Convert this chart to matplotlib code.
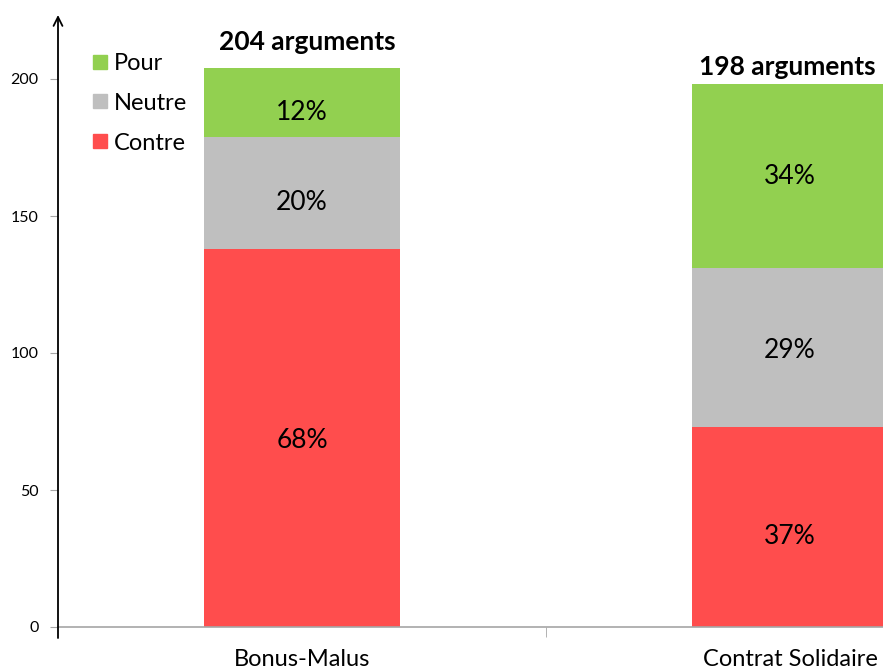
import matplotlib
matplotlib.use("Agg")
from matplotlib import pyplot as plt
from matplotlib.lines import Line2D
import matplotlib.transforms as mtransforms
import numpy as np

plt.rcParams['font.family'] = ['Lato', 'DejaVu Sans']

# donnees
categories = ['Bonus-Malus', 'Contrat Solidaire']
contre = [138, 73]
neutre = [41, 58]
pour = [25, 67]
totaux = [204, 198]
pct_contre = ['68%', '37%']
pct_neutre = ['20%', '29%']
pct_pour = ['12%', '34%']

c_pour = '#92D050'
c_neutre = '#BFBFBF'
c_contre = '#FF4D4D'

fig = plt.figure(figsize=(8.83, 6.69), dpi=100)
ax = fig.add_axes([58/883, 1 - 627/669, 1 - 58/883, (627 - 15)/669])

x = np.arange(len(categories))
w = 0.4
contre = np.array(contre)
neutre = np.array(neutre)
pour = np.array(pour)
ax.bar(x, contre, w, color=c_contre)
ax.bar(x, neutre, w, bottom=contre, color=c_neutre)
ax.bar(x, pour, w, bottom=contre + neutre, color=c_pour)

# petit decalage vertical des etiquettes (en points), comme dans Excel
def decale(dy):
    return ax.transData + mtransforms.ScaledTranslation(0, dy / 72, fig.dpi_scale_trans)

dy_contre = [-1.5, -7]
dy_neutre = [-7, -2.5]
dy_pour = [-7, 0]
for i in range(len(x)):
    ax.text(x[i], contre[i] / 2, pct_contre[i], ha='center', va='center', fontsize=19,
            transform=decale(dy_contre[i]))
    ax.text(x[i], contre[i] + neutre[i] / 2, pct_neutre[i], ha='center', va='center',
            fontsize=19, transform=decale(dy_neutre[i]))
    ax.text(x[i], contre[i] + neutre[i] + pour[i] / 2, pct_pour[i], ha='center', va='center',
            fontsize=19, transform=decale(dy_pour[i]))

# titres au-dessus des barres
ax.text(x[0] + 0.01, 213.5, '%d arguments' % totaux[0], ha='center', va='center',
        fontsize=19, fontweight='bold')
ax.text(x[1] - 0.005, 204.2, '%d arguments' % totaux[1], ha='center', va='center',
        fontsize=19, fontweight='bold')

ax.set_xlim(-0.5, (883 - 302) / 488)
ax.set_ylim(0, 612 / 2.74)

ax.set_yticks([0, 50, 100, 150, 200])
ax.tick_params(axis='y', direction='out', length=6, color='#A6A6A6', labelsize=11.5, pad=8)
ax.set_xticks(x)
ax.set_xticklabels(categories, fontsize=17)
ax.tick_params(axis='x', which='major', length=0, pad=16)
ax.set_xticks([0.5], minor=True)
ax.tick_params(axis='x', which='minor', direction='out', length=7, color='#A6A6A6')

for s in ['top', 'right', 'left']:
    ax.spines[s].set_visible(False)
ax.spines['bottom'].set_color('#A6A6A6')
ax.spines['bottom'].set_linewidth(1.2)

# axe vertical avec fleche
ax.annotate('', xy=(0, 1.0), xytext=(0, -0.018), xycoords='axes fraction',
            arrowprops=dict(arrowstyle='->', color='black', lw=1.3,
                            mutation_scale=16, shrinkA=0, shrinkB=0),
            annotation_clip=False)

handles = [Line2D([], [], marker='s', color='w', markerfacecolor=c, markeredgecolor=c,
                  markersize=10)
           for c in [c_pour, c_neutre, c_contre]]
ax.legend(handles, ['Pour', 'Neutre', 'Contre'], loc='upper left',
          bbox_to_anchor=(80/883, 1 - 41/669), bbox_transform=fig.transFigure,
          frameon=False, fontsize=17, handlelength=0.7, handletextpad=0.25,
          labelspacing=0.8, borderpad=0)

fig.savefig('out.png', dpi=100)
